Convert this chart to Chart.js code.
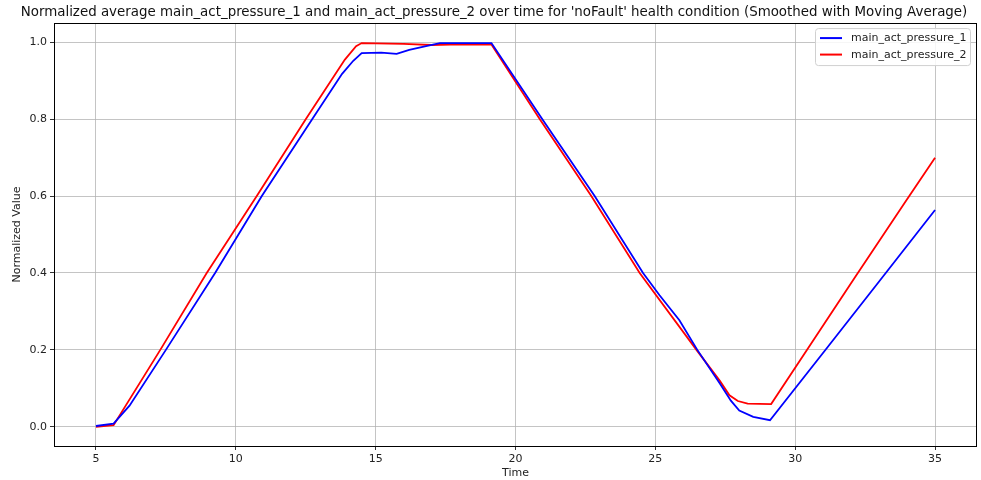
<!DOCTYPE html>
<html>
<head>
<meta charset="utf-8">
<script src="https://cdn.jsdelivr.net/npm/chart.js@4.4.1/dist/chart.umd.min.js"></script>
<style>
  html, body { margin: 0; padding: 0; background: #fff; }
  #wrap { width: 981px; height: 480px; }
</style>
</head>
<body>
<div id="wrap"><canvas id="chart" width="981" height="480"></canvas></div>
<script>
// data
var time1 = [5, 5.63, 6.2, 7.5, 9.26, 10.93, 12.73, 13.8, 14.2, 14.5, 15.2, 15.75, 16.2, 16.8, 17.3, 19.14,
             20.96, 22.83, 24.56, 25.15, 25.86, 26.5, 27.3, 27.7, 28.0, 28.5, 29.1, 31.05, 33.0, 35];
var pressure1 = [0.002, 0.008, 0.055, 0.2, 0.4, 0.6, 0.8, 0.918, 0.952, 0.972, 0.973, 0.970, 0.980, 0.990, 0.998, 0.998,
                 0.8, 0.6, 0.4, 0.342, 0.277, 0.2, 0.113, 0.068, 0.042, 0.026, 0.017, 0.197, 0.378, 0.564];

var time2 = [5, 5.63, 7.3, 8.96, 10.75, 12.5, 13.9, 14.3, 14.5, 16, 17, 18, 19.14,
             20.87, 22.71, 24.44, 26.47, 27.3, 27.65, 27.95, 28.3, 29.14, 30.33, 32.15, 33.94, 35];
var pressure2 = [0.0, 0.004, 0.2, 0.4, 0.6, 0.8, 0.955, 0.99, 0.998, 0.996, 0.993, 0.995, 0.994,
                 0.8, 0.6, 0.4, 0.2, 0.12, 0.082, 0.067, 0.06, 0.059, 0.19, 0.39, 0.585, 0.70];

var seriesNames = ['main_act_pressure_1', 'main_act_pressure_2'];
var xTicks = [5, 10, 15, 20, 25, 30, 35];
var yTicks = [0.0, 0.2, 0.4, 0.6, 0.8, 1.0];

var titleText = "Normalized average main_act_pressure_1 and main_act_pressure_2 over time for 'noFault' health condition (Smoothed with Moving Average)";

function toPoints(xs, ys) {
    var pts = [];
    for (var i = 0; i < xs.length; i++) pts.push({x: xs[i], y: ys[i]});
    return pts;
}

var FONT = 'DejaVu Sans';

// frame around the plot plus a matplotlib-ish legend inside the axes
var framePlugin = {
    id: 'frame',
    afterDraw: function(chart) {
        var ctx = chart.ctx;
        var a = chart.chartArea;
        ctx.save();
        ctx.strokeStyle = '#000';
        ctx.lineWidth = 1;
        ctx.strokeRect(Math.round(a.left) + 0.5, Math.round(a.top) + 0.5,
                       Math.round(a.right - a.left) - 1, Math.round(a.bottom - a.top));

        // legend
        ctx.font = '11px "' + FONT + '"';
        var w = 155, h = 37;
        var x0 = a.right - 7 - w, y0 = a.top + 5;
        ctx.fillStyle = 'rgba(255,255,255,0.85)';
        ctx.strokeStyle = '#d0d0d0';
        ctx.beginPath();
        ctx.roundRect(x0 + 0.5, y0 + 0.5, w, h, 3);
        ctx.fill();
        ctx.stroke();
        chart.data.datasets.forEach(function(ds, i) {
            var yy = y0 + 10 + i * 16.5;
            ctx.strokeStyle = ds.borderColor;
            ctx.lineWidth = 2;
            ctx.beginPath();
            ctx.moveTo(x0 + 5, yy);
            ctx.lineTo(x0 + 27, yy);
            ctx.stroke();
            ctx.fillStyle = '#222';
            ctx.textBaseline = 'middle';
            ctx.fillText(ds.label, x0 + 36, yy + 0.5);
        });
        ctx.restore();
    }
};

new Chart(document.getElementById('chart'), {
    type: 'line',
    data: {
        datasets: [
            {label: seriesNames[0], data: toPoints(time1, pressure1), borderColor: '#0000ff',
             borderWidth: 1.8, pointRadius: 0, tension: 0, fill: false},
            {label: seriesNames[1], data: toPoints(time2, pressure2), borderColor: '#ff0000',
             borderWidth: 1.8, pointRadius: 0, tension: 0, fill: false}
        ]
    },
    options: {
        responsive: false,
        animation: false,
        layout: {padding: {left: 11, right: 4, top: 0, bottom: 0}},
        plugins: {
            legend: {display: false},
            tooltip: {enabled: false},
            title: {
                display: true,
                text: titleText,
                color: '#111',
                font: {family: FONT, size: 13.4, weight: 'normal'},
                padding: {top: 4, bottom: 3}
            }
        },
        scales: {
            x: {
                type: 'linear',
                min: 3.5, max: 36.5,
                afterBuildTicks: function(scale) {
                    scale.ticks = xTicks.map(function(v) { return {value: v}; });
                },
                afterFit: function(scale) { scale.height = 34; },
                grid: {color: 'rgba(176,176,176,0.75)', lineWidth: 1, tickLength: 4, tickColor: '#333', drawTicks: true},
                border: {display: false},
                ticks: {color: '#222', font: {family: FONT, size: 11}, padding: 3, maxRotation: 0,
                        callback: function(v) { return String(v); }},
                title: {display: true, text: 'Time', color: '#222', font: {family: FONT, size: 11}, padding: {top: 0, bottom: 0}}
            },
            y: {
                min: -0.05, max: 1.05,
                afterBuildTicks: function(scale) {
                    scale.ticks = yTicks.map(function(v) { return {value: v}; });
                },
                afterFit: function(scale) { scale.width = 43; },
                grid: {color: 'rgba(176,176,176,0.75)', lineWidth: 1, tickLength: 4, tickColor: '#333', drawTicks: true},
                border: {display: false},
                ticks: {color: '#222', font: {family: FONT, size: 11}, padding: 3,
                        callback: function(v) { return Number(v).toFixed(1); }},
                title: {display: true, text: 'Normalized Value', color: '#222', font: {family: FONT, size: 11}, padding: {top: 0, bottom: 0}}
            }
        }
    },
    plugins: [framePlugin]
});
</script>
</body>
</html>
